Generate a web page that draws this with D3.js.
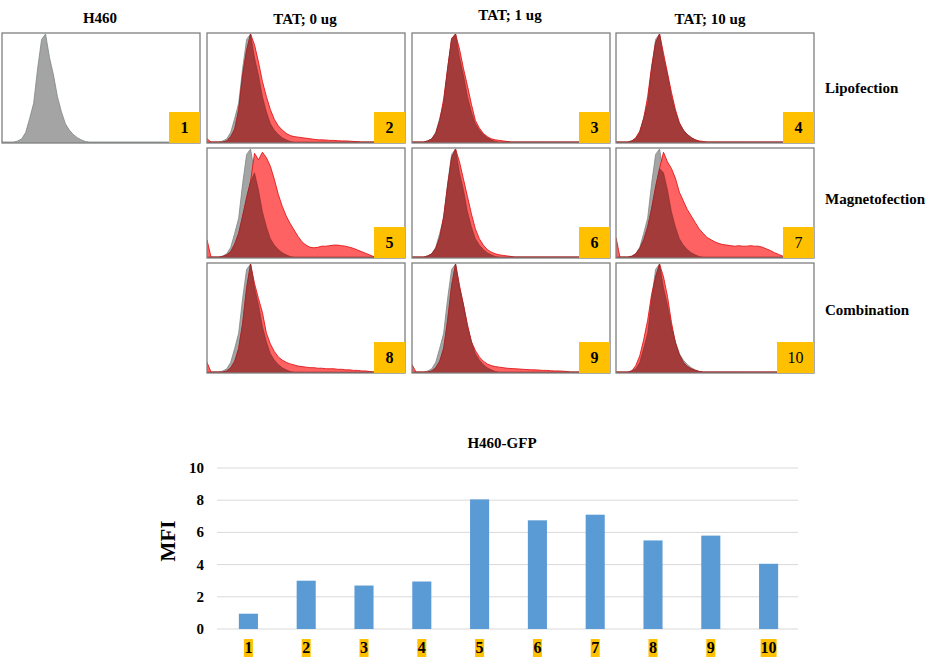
<!DOCTYPE html>
<html><head><meta charset="utf-8">
<script src="https://cdn.jsdelivr.net/npm/d3@7"></script>
<style>
html,body{margin:0;padding:0;background:#fff;}
svg{display:block;}
text{font-family:"Liberation Serif","Times New Roman",serif;fill:#000;}
</style></head>
<body>
<svg id="chart" width="942" height="666"></svg>
<script>
// ---------- DATA ----------
const columnTitles = ["H460", "TAT; 0 ug", "TAT; 1 ug", "TAT; 10 ug"];
const rowLabels = ["Lipofection", "Magnetofection", "Combination"];
// histogram bins (relative channel, % of axis width)
const channel = [0,2,4,6,8,10,12,14,16,18,20,22,24,26,28,30,32,34,36,38,40,42,44,46,48,50,
                 52,54,56,58,60,62,64,66,68,70,72,74,76,78,80,82,84,86,88,90,92,94,96,98,100];
// counts as % of mode; bins not listed are 0
const control = [0,0,0,0,1,3,9,22,36,68,95,100,78,62,42,28,17,11,7,4,2,0.5,0];
const sample2 = [3,0,0,0,0,1,5,12,30,62,85,100,90,74,56,42,30,21,15,11,8,6,5,4.5,4,3.5,3,2.5,2,2,1.8,1.5,1.5,1.2,1,1,0.8,0.5,0.3,0];
const sample3 = [0,0,0,0,1,3,8,20,40,68,96,100,86,68,52,35,20,13,8,5,3,2,1.5,1,0.5,0];
const sample4 = [0,0,0,0,1,4,10,22,42,70,92,100,82,64,46,30,18,11,7,4,2,1,0.5,0];
const sample5 = [16,0,0,0,0.5,2,5,12,22,38,55,70,96,90,97,92,84,72,58,47,38,31,25,19,14,11,9,8.5,9,10,10,10.5,11,11,10.5,10,9,8,6.5,5,3.5,2,0.5,0];
const sample6 = [0,0,0,0,1,3,8,18,38,66,92,100,88,72,56,40,26,17,11,7,4.5,3,2,1.5,1,0.5,0];
const sample7 = [18,0,0,0,0.5,3,8,16,28,45,65,82,97,88,82,73,60,52,44,38,32,26,22,18,16,14,12.5,11.5,11,10.5,10,10.5,10,10,10.5,10,10,9,7.5,6,4,2.5,1,0];
const sample8 = [9,0,0,0,0,1,4,10,22,45,78,100,82,68,55,36,26,19,14,11,9,7.5,6.5,5.5,5,4.5,4,4,3.5,3.5,3,3,3,2.5,2.5,2,2,1.5,1.5,1,1,0.5,0];
const sample9 = [7,0,0,0,0,1,4,10,22,48,80,100,80,62,44,28,20,14,10,7.5,6,5,4.5,4,3.5,3.2,3,2.8,2.5,2.3,2,2,1.8,1.5,1.5,1.2,1,1,0.8,0.5,0];
const sample10 = [0,0,0,0,1,6,15,30,48,72,88,100,88,70,46,27,16,9,5,3,1.5,0.5,0];
const panelIds = ["1","2","3","4","5","6","7","8","9","10"];
const panelSamples = [null, sample2, sample3, sample4, sample5, sample6, sample7, sample8, sample9, sample10];

// bar chart
const barTitle = "H460-GFP";
const barCategories = ["1","2","3","4","5","6","7","8","9","10"];
const mfi = [0.95, 3.0, 2.7, 2.95, 8.05, 6.75, 7.1, 5.5, 5.8, 4.05];
const mfiTicks = [0, 2, 4, 6, 8, 10];
const yAxisTitle = "MFI";

// ---------- LAYOUT ----------
const svg = d3.select("#chart");
const colX = [2, 207, 412, 616];
const rowY = [33, 148, 263];
const pw = 198, ph = 110;
const GOLD = "#FFC000";

// column titles
const titlePos = [[100,23],[305,24],[510,20],[710,24]];
columnTitles.forEach((t,i)=>{
  svg.append("text").attr("x", titlePos[i][0]).attr("y", titlePos[i][1])
    .attr("text-anchor","middle").attr("font-size",15).attr("font-weight","bold").text(t);
});
const rowLabelY = [93, 204, 315];
rowLabels.forEach((t,i)=>{
  svg.append("text").attr("x", 825).attr("y", rowLabelY[i])
    .attr("font-size",15).attr("font-weight","bold").text(t);
});

const hx = d3.scaleLinear().domain([0,100]).range([0,pw]);
const hy = d3.scaleLinear().domain([0,100]).range([ph-1, 1]);
const val = (arr,i)=> (arr && i < arr.length) ? arr[i] : 0;

function drawPanel(idx, col, row){
  const g = svg.append("g").attr("transform", `translate(${colX[col]},${rowY[row]})`);
  const clipId = "clip"+idx;
  g.append("clipPath").attr("id",clipId).append("rect").attr("width",pw).attr("height",ph);
  const inner = g.append("g").attr("clip-path",`url(#${clipId})`);
  const sample = panelSamples[idx];
  const pts = channel.map((c,i)=>({c, g:val(control,i), r:val(sample,i)}));
  const area = key => d3.area().x(d=>hx(d.c)).y0(hy(0)+1).y1(d=>hy(key(d))).curve(d3.curveLinear);
  const line = key => d3.line().x(d=>hx(d.c)).y(d=>hy(key(d))).curve(d3.curveLinear);
  inner.append("path").datum(pts).attr("d", area(d=>d.g)).attr("fill","#a4a4a4");
  inner.append("path").datum(pts).attr("d", line(d=>d.g)).attr("fill","none").attr("stroke","#7d8787").attr("stroke-width",0.8);
  if (sample){
    inner.append("path").datum(pts).attr("d", area(d=>d.r)).attr("fill","#ff6262");
    inner.append("path").datum(pts).attr("d", line(d=>d.r)).attr("fill","none").attr("stroke","#e01818").attr("stroke-width",0.9);
    inner.append("path").datum(pts).attr("d", area(d=>Math.min(d.g,d.r))).attr("fill","#a33b3b");
    inner.append("path").datum(pts).attr("d", line(d=>Math.min(d.g,d.r))).attr("fill","none").attr("stroke","#7a2626").attr("stroke-width",0.5);
  }
  g.append("rect").attr("width",pw).attr("height",ph).attr("fill","none").attr("stroke","#7f7f7f").attr("stroke-width",1.3);
  const label = panelIds[idx];
  const bw = label.length > 1 ? 37 : 31;
  g.append("rect").attr("x", pw-bw).attr("y", ph-31).attr("width",bw).attr("height",31).attr("fill",GOLD);
  g.append("text").attr("x", pw-bw/2).attr("y", ph-10).attr("text-anchor","middle")
    .attr("font-size",16).attr("font-weight", (label==="7"||label==="10")?"normal":"bold").text(label);
}
drawPanel(0,0,0);
for (let k=1;k<10;k++){
  const row = Math.floor((k-1)/3), col = (k-1)%3 + 1;
  drawPanel(k, col, row);
}

// ---------- BAR CHART ----------
const bx0 = 217, bx1 = 798, by0 = 629, by1 = 468;
const x = d3.scaleBand().domain(barCategories).range([219.5, 797.5]).paddingInner(0.67).paddingOuter(0.335);
const y = d3.scaleLinear().domain([0,10]).range([by0, by1]);

svg.append("text").attr("x", 502).attr("y", 448).attr("text-anchor","middle")
  .attr("font-size",15).attr("font-weight","bold").text(barTitle);

const grid = svg.append("g");
mfiTicks.forEach(t=>{
  grid.append("line").attr("x1",bx0).attr("x2",bx1).attr("y1",y(t)).attr("y2",y(t))
    .attr("stroke","#d9d9d9").attr("stroke-width",1);
  svg.append("text").attr("x",204).attr("y",y(t)+5).attr("text-anchor","end")
    .attr("font-size",15).attr("font-weight","bold").text(t);
});

svg.append("g").selectAll("rect").data(mfi).join("rect")
  .attr("x",(d,i)=>x(barCategories[i])).attr("width",x.bandwidth())
  .attr("y",d=>y(d)).attr("height",d=>y(0)-y(d)).attr("fill","#5B9BD5");

const xl = svg.append("g");
barCategories.forEach(c=>{
  const cx = x(c) + x.bandwidth()/2;
  const w = c.length>1 ? 16 : 9;
  xl.append("rect").attr("x",cx-w/2).attr("y",639).attr("width",w).attr("height",18).attr("fill",GOLD);
  xl.append("text").attr("x",cx).attr("y",653).attr("text-anchor","middle")
    .attr("font-size",16).attr("font-weight","bold").text(c);
});

svg.append("text").attr("transform","translate(175,541) rotate(-90)").attr("text-anchor","middle")
  .attr("font-size",21).attr("font-weight","bold").text(yAxisTitle);
</script>
</body></html>
